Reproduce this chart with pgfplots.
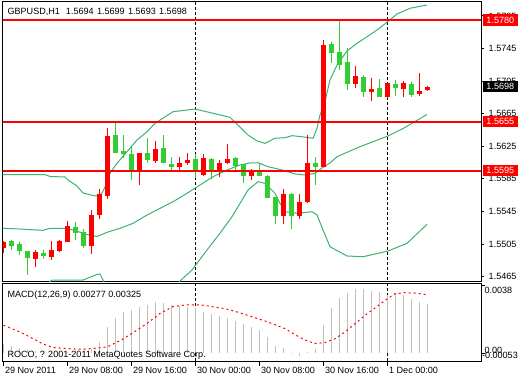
\documentclass[border=0pt]{standalone}
\usepackage{fontspec}
\setmainfont{Liberation Sans}
\usepackage{pgfplots}
\usepackage{pgfplotstable}
\pgfplotsset{compat=1.18}
\definecolor{cred}{RGB}{255,0,0}
\definecolor{cgreen}{RGB}{50,205,50}
\definecolor{bband}{RGB}{60,179,113}
\definecolor{histgray}{RGB}{192,192,192}
\newcommand{\sm}{\fontsize{6.8}{8}\selectfont}

\pgfplotstableread{
i O H L C
0 1.5500 1.5509 1.5494 1.5508
4 1.5487 1.5498 1.5477 1.5495
6 1.5489 1.5509 1.5485 1.5498
7 1.5496 1.5510 1.5495 1.5509
8 1.5508 1.5533 1.5507 1.5527
11 1.5503 1.5547 1.5493 1.5541
12 1.5541 1.5573 1.5536 1.5567
13 1.5564 1.5648 1.5560 1.5638
17 1.5595 1.5617 1.5577 1.5617
19 1.5607 1.5632 1.5604 1.5622
22 1.5600 1.5612 1.5596 1.5605
23 1.5605 1.5617 1.5602 1.5608
25 1.5590 1.5615 1.5588 1.5611
27 1.5595 1.5608 1.5587 1.5604
28 1.5605 1.5628 1.5603 1.5609
31 1.5589 1.5597 1.5584 1.5595
35 1.5540 1.5573 1.5530 1.5567
37 1.5540 1.5567 1.5536 1.5556
38 1.5557 1.5639 1.5555 1.5604
40 1.5600 1.5756 1.5599 1.5749
44 1.5701 1.5724 1.5697 1.5711
46 1.5692 1.5709 1.5681 1.5695
48 1.5685 1.5703 1.5684 1.5703
50 1.5695 1.5705 1.5686 1.5703
52 1.5689 1.5715 1.5687 1.5693
53 1.5694 1.5699 1.5693 1.5698
}\bull

\pgfplotstableread{
i O H L C
1 1.5509 1.5510 1.5498 1.5503
2 1.5505 1.5507 1.5492 1.5497
3 1.5496 1.5497 1.5467 1.5488
5 1.5494 1.5498 1.5487 1.5490
9 1.5526 1.5532 1.5510 1.5518
10 1.5520 1.5523 1.5500 1.5503
14 1.5639 1.5655 1.5617 1.5617
15 1.5619 1.5639 1.5610 1.5616
16 1.5616 1.5624 1.5584 1.5595
18 1.5617 1.5635 1.5605 1.5608
20 1.5623 1.5639 1.5604 1.5604
21 1.5603 1.5612 1.5595 1.5600
24 1.5609 1.5616 1.5586 1.5595
26 1.5609 1.5610 1.5585 1.5594
29 1.5611 1.5612 1.5594 1.5601
30 1.5603 1.5603 1.5580 1.5589
32 1.5595 1.5605 1.5589 1.5589
33 1.5588 1.5590 1.5561 1.5561
34 1.5563 1.5563 1.5529 1.5540
36 1.5566 1.5568 1.5524 1.5539
39 1.5605 1.5612 1.5577 1.5600
41 1.5751 1.5753 1.5727 1.5739
42 1.5741 1.5779 1.5719 1.5725
43 1.5728 1.5746 1.5694 1.5701
45 1.5710 1.5713 1.5686 1.5692
47 1.5697 1.5708 1.5686 1.5686
49 1.5701 1.5706 1.5687 1.5697
51 1.5701 1.5704 1.5686 1.5688
}\bear

\begin{document}
\begin{tikzpicture}
\fill[white] (0,0) rectangle (390pt,-285pt);
% ---------------- main price panel
\begin{axis}[
  at={(1.875pt,-1.125pt)}, anchor=north west,
  scale only axis, width=358.875pt, height=210pt,
  xmin=-0.125, xmax=59.6875, ymin=1.545898, ymax=1.58027,
  xtick=\empty,
  ytick={1.5465,1.5505,1.5545,1.5585,1.5625,1.5665,1.5705,1.5745,1.5785},
  ytick pos=right, yticklabel pos=right,
  scaled y ticks=false,
  tick align=outside, major tick length=2.25pt,
  yticklabel style={/pgf/number format/.cd, fixed, fixed zerofill, precision=4, assume math mode=true},
  ticklabel style={font=\sm},
  axis line style={line width=0.75pt},
  every tick/.style={black, line width=0.75pt},
]
% day separators
\addplot[black, line width=0.75pt, dash pattern=on 2.25pt off 1.5pt] coordinates {(24,1.54) (24,1.59)};
\addplot[black, line width=0.75pt, dash pattern=on 2.25pt off 1.5pt] coordinates {(48,1.54) (48,1.59)};
% Bollinger bands
\addplot[bband, line width=0.75pt] table {
x y
-0.125 1.55903
5.19 1.55903
5.81 1.55879
7.69 1.55873
8.06 1.55836
9.19 1.55762
9.94 1.55676
11.19 1.55646
12.06 1.55633
12.44 1.55701
12.94 1.55799
13.31 1.55918
14.19 1.56041
15.44 1.56183
16.69 1.56327
17.94 1.56429
18.94 1.56532
21.19 1.56674
23.94 1.56707
26.19 1.56655
28.31 1.56606
29.56 1.56486
30.56 1.56388
31.69 1.56315
32.69 1.56286
33.94 1.56348
35.19 1.56355
36.06 1.56380
37.31 1.56367
38.69 1.56348
39.19 1.56471
39.56 1.56634
40.19 1.56800
40.81 1.57063
41.69 1.57248
42.94 1.57419
44.19 1.57514
45.44 1.57595
46.69 1.57677
48.06 1.57782
49.19 1.57874
50.81 1.57944
52.94 1.57984
};
\addplot[bband, line width=0.75pt] table {
x y
-0.125 1.55243
2.06 1.55234
4.94 1.55218
5.81 1.55243
7.69 1.55243
8.69 1.55222
10.44 1.55167
11.69 1.55142
12.44 1.55173
13.06 1.55198
14.56 1.55243
16.19 1.55304
17.94 1.55406
19.56 1.55488
21.19 1.55569
22.94 1.55673
24.56 1.55774
26.19 1.55876
27.94 1.55959
29.56 1.56020
30.81 1.56045
31.81 1.56048
33.06 1.55999
34.81 1.55959
36.44 1.55910
37.69 1.55897
38.94 1.55918
39.81 1.55983
40.81 1.56045
41.69 1.56122
44.56 1.56245
48.06 1.56376
49.94 1.56468
52.94 1.56640
};
\addplot[bband, line width=0.75pt] table {
x y
4.56 1.54363
5.56 1.54571
6.06 1.54608
9.94 1.54608
11.69 1.54676
12.06 1.54682
12.56 1.54584
13.31 1.54363
21.06 1.54363
22.06 1.54596
23.56 1.54731
25.44 1.54977
27.06 1.55182
28.56 1.55385
29.81 1.55590
30.56 1.55713
31.81 1.55815
32.69 1.55795
33.94 1.55673
34.56 1.55550
35.19 1.55447
36.81 1.55427
38.56 1.55447
39.19 1.55406
39.94 1.55222
40.81 1.55017
42.94 1.54903
44.94 1.54894
48.06 1.54964
50.44 1.55059
52.94 1.55292
};
% candles: wicks
\addplot[draw=none, mark=none, error bars/.cd, y dir=plus, y explicit, error mark=none,
  error bar style={draw=cred, line width=0.75pt}]
  table[x=i, y=L, y error plus expr=\thisrow{H}-\thisrow{L}] {\bull};
\addplot[draw=none, mark=none, error bars/.cd, y dir=plus, y explicit, error mark=none,
  error bar style={draw=cgreen, line width=0.75pt}]
  table[x=i, y=L, y error plus expr=\thisrow{H}-\thisrow{L}] {\bear};
% candles: bodies
\addplot[draw=none, mark=none, error bars/.cd, y dir=plus, y explicit, error mark=none,
  error bar style={draw=cred, line width=3.75pt}]
  table[x=i, y=O, y error plus expr=\thisrow{C}-\thisrow{O}] {\bull};
\addplot[draw=none, mark=none, error bars/.cd, y dir=plus, y explicit, error mark=none,
  error bar style={draw=cgreen, line width=3.75pt}]
  table[x=i, y=C, y error plus expr=\thisrow{O}-\thisrow{C}] {\bear};
% horizontal levels
\addplot[cred, line width=1.5pt] coordinates {(-0.125,1.5780) (59.6875,1.5780)};
\addplot[cred, line width=1.5pt] coordinates {(-0.125,1.5655) (59.6875,1.5655)};
\addplot[cred, line width=1.5pt] coordinates {(-0.125,1.5595) (59.6875,1.5595)};
\coordinate (b1) at (axis cs:59.6875,1.5780);
\coordinate (b2) at (axis cs:59.6875,1.5698);
\coordinate (b3) at (axis cs:59.6875,1.5655);
\coordinate (b4) at (axis cs:59.6875,1.5595);
\end{axis}
\node[fill=cred, text=white, anchor=west, minimum width=26pt, minimum height=8.5pt, inner sep=0pt, font=\sm] at ([xshift=1.3pt]b1) {1.5780};
\node[fill=black, text=white, anchor=west, minimum width=26pt, minimum height=8pt, inner sep=0pt, font=\sm] at ([xshift=1.3pt]b2) {1.5698};
\node[fill=cred, text=white, anchor=west, minimum width=26pt, minimum height=8pt, inner sep=0pt, font=\sm] at ([xshift=1.3pt]b3) {1.5655};
\node[fill=cred, text=white, anchor=west, minimum width=26pt, minimum height=8pt, inner sep=0pt, font=\sm] at ([xshift=1.3pt]b4) {1.5595};
\node[anchor=base west, inner sep=0pt, font=\sm] at (5.5pt,-10.5pt) {GBPUSD,H1\hspace{4.5pt}1.5694\hspace{2.5pt}1.5699\hspace{2.5pt}1.5693\hspace{2.5pt}1.5698};
% ---------------- MACD panel (values in units of 0.001)
\begin{axis}[
  at={(1.875pt,-212.25pt)}, anchor=north west,
  scale only axis, width=358.875pt, height=58.875pt,
  xmin=-0.125, xmax=59.6875, ymin=-0.478, ymax=3.933,
  xtick={0,8,16,24,32,40,48},
  xticklabels={29 Nov 2011,29 Nov 08:00,29 Nov 16:00,30 Nov 00:00,30 Nov 08:00,30 Nov 16:00,1 Dec 00:00},
  xtick pos=left, ytick pos=right,
  ytick={0,3.8}, yticklabels={},
  scaled y ticks=false,
  tick align=outside, major tick length=3pt,
  xticklabel style={anchor=north west, inner xsep=1pt, inner ysep=1pt, font=\sm},
  axis line style={line width=0.75pt},
  every tick/.style={black, line width=0.75pt},
]
\addplot[black, line width=0.75pt, dash pattern=on 2.25pt off 1.5pt] coordinates {(24,-1) (24,5)};
\addplot[black, line width=0.75pt, dash pattern=on 2.25pt off 1.5pt] coordinates {(48,-1) (48,5)};
\addplot[ycomb, draw=histgray, line width=0.75pt] table[x=x, y expr=\thisrow{y}*1000] {
x y
0 0.00053
1 0.00039
2 0.00030
3 0.00020
4 0.00012
5 0.00008
6 0.00004
7 0.00003
8 0.00008
9 0.00010
10 0.00008
11 0.00020
12 0.00062
13 0.00146
14 0.00197
15 0.00228
16 0.00242
17 0.00261
18 0.00272
19 0.00289
20 0.00281
21 0.00270
22 0.00264
23 0.00256
24 0.00253
25 0.00230
26 0.00219
27 0.00206
28 0.00197
29 0.00180
30 0.00165
31 0.00146
32 0.00131
33 0.00090
34 0.00039
35 0.00028
36 -0.00004
37 -0.00015
38 0.00008
39 0.00024
40 0.00157
41 0.00254
42 0.00309
43 0.00336
44 0.00361
45 0.00361
46 0.00350
47 0.00344
48 0.00326
49 0.00330
50 0.00326
51 0.00304
52 0.00285
53 0.00277
};
\addplot[cred, line width=0.75pt, dash pattern=on 1.5pt off 2.25pt] table[x=x, y expr=\thisrow{y}*1000] {
x y
0 0.00156
2.06 0.00118
3.69 0.00081
4.94 0.00051
6.19 0.00031
7.94 0.00025
9.56 0.00021
11.19 0.00025
12.94 0.00034
14.56 0.00069
16.19 0.00114
17.94 0.00166
19.56 0.00222
21.19 0.00261
22.94 0.00271
24.56 0.00271
26.19 0.00260
27.69 0.00249
28.94 0.00234
30.19 0.00217
31.44 0.00198
32.69 0.00180
33.94 0.00159
35.19 0.00137
36.44 0.00103
37.69 0.00073
38.94 0.00053
40.19 0.00059
41.44 0.00080
42.69 0.00118
43.94 0.00165
45.19 0.00212
46.44 0.00253
47.69 0.00296
48.94 0.00333
50.19 0.00339
51.44 0.00337
52.94 0.00327
};
\end{axis}
\node[anchor=base west, inner sep=0pt, font=\sm] at (5.5pt,-223.3pt) {MACD(12,26,9) 0.00277 0.00325};
\node[anchor=base west, inner sep=0pt, font=\sm] at (5.5pt,-268pt) {ROCO, ? 2001-2011 MetaQuotes Software Corp.};
\node[anchor=west, inner sep=0pt, font=\sm] at (363.2pt,-217.5pt) {0.0038};
\node[anchor=west, inner sep=0pt, font=\sm] at (363.2pt,-263pt) {0.00};
\node[anchor=west, inner sep=0pt, font=\sm] at (361.3pt,-266.5pt) {-0.00053};
\pgfresetboundingbox
\useasboundingbox (0,0) rectangle (390pt,-285pt);
\end{tikzpicture}
\end{document}
